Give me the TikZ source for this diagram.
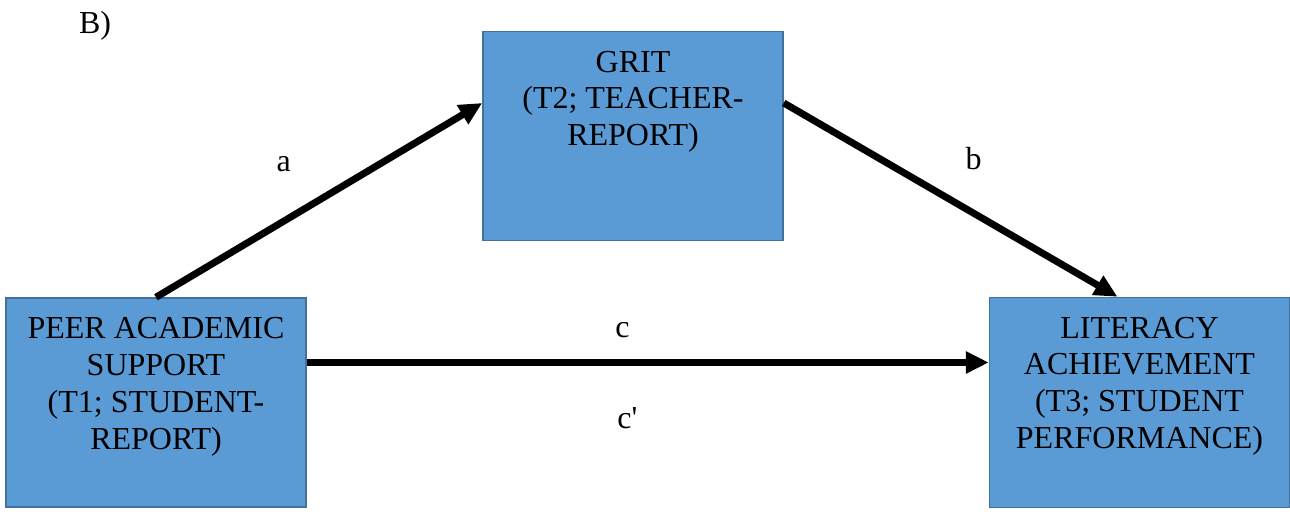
\documentclass[tikz,border=0pt]{standalone}
\usepackage{fontspec}
\setmainfont{Liberation Serif}[Ligatures=TeXOff]
\usetikzlibrary{arrows.meta,positioning}
\definecolor{boxfill}{HTML}{5B9BD5}
\definecolor{boxline}{HTML}{41719C}

\begin{document}
\begin{tikzpicture}[x=1pt,y=-1pt,>={Triangle[length=23pt,width=21pt]},
	every node/.style={font=\fontsize{32}{36.8}\selectfont},
	box/.style={draw=boxline,fill=boxfill,line width=1.5pt,minimum width=300pt,minimum height=209pt,inner sep=0pt},
	boxtext/.style={align=center,inner sep=0pt}]

\useasboundingbox (0,0) rectangle (1290,518);

\node[anchor=base]   (panel)  at (95,34)      {B)};

\node[box]   (peer)  at (156,402.5)      {};
 \node[box] 	  (grit)  at (633,136)  	{};
	\node[box,minimum height=210pt]   (lit)  at (1139.5,402.5)      {};

	\node[boxtext,below=20pt of peer.north] (peertext) {PEER ACADEMIC\\SUPPORT\\(T1; STUDENT-\\REPORT)};
	\node[boxtext,below=20pt of grit.north] (grittext) {GRIT\\(T2; TEACHER-\\REPORT)};
	\node[boxtext,below=20pt of lit.north] (littext) {LITERACY\\ACHIEVEMENT\\(T3; STUDENT\\PERFORMANCE)};

	\path[->,line width=7pt] (peer.north)  edge	  	node[pos=.47,anchor=base,xshift=-25.5pt,yshift=34.4pt]{a} 	([yshift=33pt]grit.west)

        ([yshift=33pt]grit.east) edge  node[pos=.5,anchor=base,xshift=23pt,yshift=30.5pt]{b} 		 	([xshift=-22pt]lit.north)

					([yshift=40pt]peer.east) edge  node[pos=.463,anchor=base,yshift=25pt]{c}
								node[pos=.47,anchor=base,yshift=-66pt]{c'} 		 	([yshift=40pt]lit.west);

	\end{tikzpicture}
\end{document}
